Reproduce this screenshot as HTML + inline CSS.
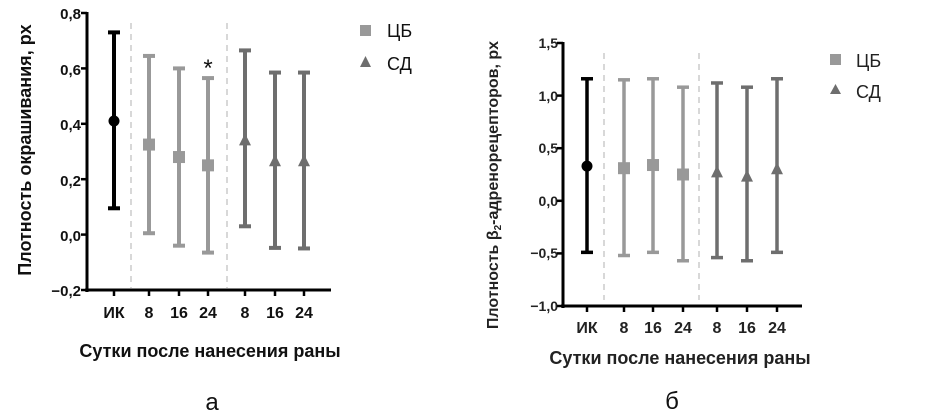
<!DOCTYPE html>
<html><head><meta charset="utf-8"><style>
html,body{margin:0;padding:0;background:#fff;}
svg{display:block;font-family:"Liberation Sans",Arial,sans-serif;}
</style></head><body>
<svg id="s" width="929" height="417" viewBox="0 0 929 417" xmlns="http://www.w3.org/2000/svg">
<rect width="929" height="417" fill="#fff"/>
<g font-weight="bold" font-size="15" fill="#111">
<text x="81" y="19" text-anchor="end">0,8</text>
<text x="81" y="75" text-anchor="end">0,6</text>
<text x="81" y="130" text-anchor="end">0,4</text>
<text x="81" y="186" text-anchor="end">0,2</text>
<text x="81" y="241" text-anchor="end">0,0</text>
<text x="81" y="296" text-anchor="end">−0,2</text>
<g font-size="16">
<text x="114" y="318" text-anchor="middle">ИК</text>
<text x="149" y="318" text-anchor="middle">8</text>
<text x="179" y="318" text-anchor="middle">16</text>
<text x="208" y="318" text-anchor="middle">24</text>
<text x="245" y="318" text-anchor="middle">8</text>
<text x="275" y="318" text-anchor="middle">16</text>
<text x="304" y="318" text-anchor="middle">24</text>
</g>
<text x="210" y="357" text-anchor="middle" font-size="18">Сутки после нанесения раны</text>
<text transform="translate(31,150) rotate(-90)" text-anchor="middle" font-size="18">Плотность окрашивания, px</text>
<text x="208" y="76" text-anchor="middle" font-size="24" font-weight="normal">*</text>
<text x="387" y="37" font-size="18" font-weight="normal">ЦБ</text>
<text x="387" y="70" font-size="18" font-weight="normal">СД</text>
</g>
<text x="212" y="410" text-anchor="middle" font-size="24" fill="#111">а</text>
<rect x="360" y="25" width="11" height="11" fill="#999"/>
<polygon points="365.5,56 371,67 360,67" fill="#6e6e6e"/>
<g font-weight="bold" font-size="14" fill="#222">
<text x="558" y="48" text-anchor="end">1,5</text>
<text x="558" y="101" text-anchor="end">1,0</text>
<text x="558" y="153" text-anchor="end">0,5</text>
<text x="558" y="206" text-anchor="end">0,0</text>
<text x="558" y="258" text-anchor="end">−0,5</text>
<text x="558" y="311" text-anchor="end">−1,0</text>
<g font-size="16">
<text x="587" y="333" text-anchor="middle">ИК</text>
<text x="624" y="333" text-anchor="middle">8</text>
<text x="653" y="333" text-anchor="middle">16</text>
<text x="683" y="333" text-anchor="middle">24</text>
<text x="717" y="333" text-anchor="middle">8</text>
<text x="747" y="333" text-anchor="middle">16</text>
<text x="777" y="333" text-anchor="middle">24</text>
</g>
<text x="680" y="364" text-anchor="middle" font-size="18">Сутки после нанесения раны</text>
<text transform="translate(498,185) rotate(-90)" text-anchor="middle" font-size="16">Плотность β<tspan font-size="10" dy="3">2</tspan><tspan dy="-3">-адренорецепторов, px</tspan></text>
<text x="856" y="67" font-size="18" font-weight="normal">ЦБ</text>
<text x="856" y="98" font-size="18" font-weight="normal">СД</text>
</g>
<text x="672" y="409" text-anchor="middle" font-size="24" fill="#111">б</text>
<rect x="830" y="54" width="11" height="11" fill="#999"/>
<polygon points="835.5,84 841,94 830,94" fill="#6e6e6e"/>
</svg>
<script>
var s=document.getElementById('s'),NS='http://www.w3.org/2000/svg';
function el(t,a){var e=document.createElementNS(NS,t);for(var k in a)e.setAttribute(k,a[k]);s.appendChild(e);return e;}
function chart(c){
 var Y=function(v){return c.y0-(v-c.vmin)*c.k;};
 c.dash.forEach(function(x){el('line',{x1:x,x2:x,y1:c.dy1,y2:c.dy2,stroke:'#ccc','stroke-width':1.5,'stroke-dasharray':'6,5'});});
 el('line',{x1:c.ax,x2:c.ax,y1:c.top-1,y2:c.y0+2,stroke:'#000','stroke-width':3});
 el('line',{x1:c.ax-2,x2:c.xend,y1:c.y0,y2:c.y0,stroke:'#000','stroke-width':3});
 c.ticks.forEach(function(v){el('line',{x1:c.ax-6,x2:c.ax,y1:Y(v),y2:Y(v),stroke:'#000','stroke-width':2.5});});
 c.pts.forEach(function(p){el('line',{x1:p[0],x2:p[0],y1:c.y0,y2:c.y0+6,stroke:'#000','stroke-width':2.5});});
 c.pts.forEach(function(p,i){
  var col=i==0?'#000':(i<4?'#999':'#6e6e6e');
  var x=p[0],m=Y(p[1]),t=Y(p[2]),b=Y(p[3]);
  el('line',{x1:x,x2:x,y1:t,y2:b,stroke:col,'stroke-width':c.lw});
  el('line',{x1:x-6,x2:x+6,y1:t,y2:t,stroke:col,'stroke-width':c.lw});
  el('line',{x1:x-6,x2:x+6,y1:b,y2:b,stroke:col,'stroke-width':c.lw});
  if(i==0)el('circle',{cx:x,cy:m,r:5.5,fill:col});
  else if(i<4)el('rect',{x:x-6,y:m-6,width:12,height:12,fill:col});
  else el('polygon',{points:x+','+(m-7)+' '+(x+6)+','+(m+5)+' '+(x-6)+','+(m+5),fill:col});
 });
}
chart({ax:87,y0:290,top:13,vmin:-0.2,k:277,xend:331,lw:4,dash:[131,227],dy1:23,dy2:288,
 ticks:[0.8,0.6,0.4,0.2,0,-0.2],
 pts:[[114,.41,.73,.095],[149,.325,.645,.005],[179,.28,.6,-.04],[208,.25,.565,-.065],[245,.34,.665,.03],[275,.265,.585,-.048],[304,.265,.585,-.05]]});
chart({ax:563,y0:306,top:43,vmin:-1,k:105.2,xend:802,lw:3.5,dash:[604,699],dy1:53,dy2:300,
 ticks:[1.5,1,0.5,0,-0.5,-1],
 pts:[[587,.33,1.16,-.49],[624,.31,1.15,-.52],[653,.34,1.16,-.49],[683,.25,1.08,-.57],[717,.27,1.12,-.54],[747,.23,1.08,-.57],[777,.3,1.16,-.49]]});
</script>
</body></html>
